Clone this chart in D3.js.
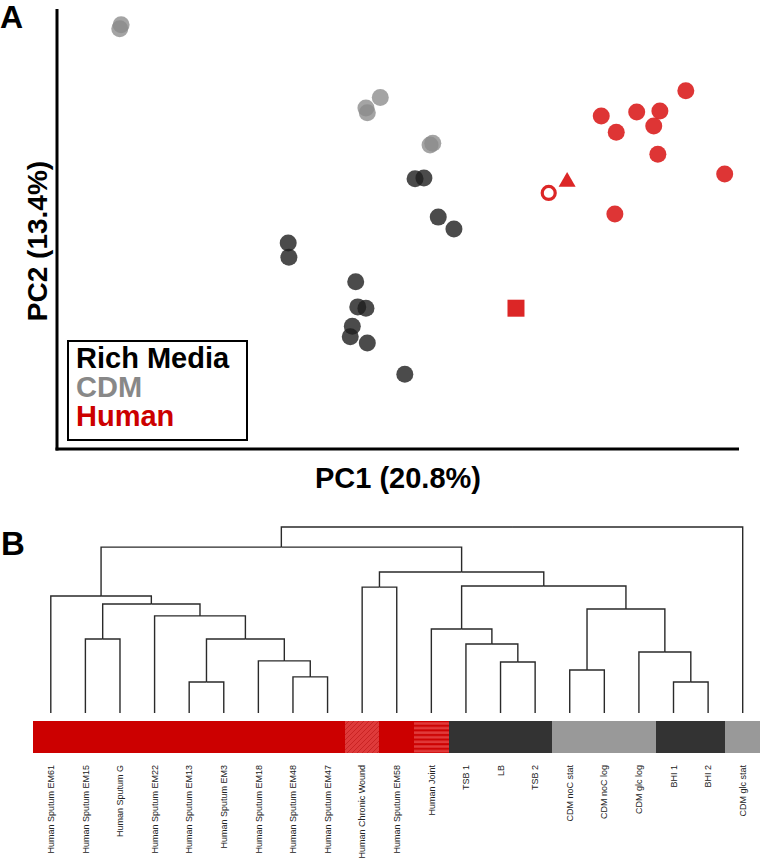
<!DOCTYPE html>
<html>
<head>
<meta charset="utf-8">
<script src="https://cdn.jsdelivr.net/npm/d3@7"></script>
<style>
  html, body { margin: 0; padding: 0; background: #fff; }
  svg { display: block; font-family: "Liberation Sans", Arial, sans-serif; }
</style>
</head>
<body>
<div id="chart"></div>
<script>
// ---- Panel A: PCA scores (axis units, 0-100 both ways) ----
const richX = [52.5, 53.8, 55.9, 58.2, 33.9, 34.0, 43.8, 44.1, 45.3, 43.3, 43.0, 45.5, 51.0];
const richY = [61.4, 61.6, 52.7, 50.0, 46.8, 43.6, 38.0, 32.3, 32.0, 27.9, 25.5, 24.1, 17.0];
const cdmX = [9.4, 9.2, 47.4, 45.3, 45.5, 54.7, 55.1];
const cdmY = [96.4, 95.5, 79.9, 77.5, 76.4, 69.1, 69.5];
const humanX = [79.8, 82.0, 85.0, 88.4, 87.5, 92.2, 88.1, 97.9, 81.8, 72.1, 74.8, 67.3];
const humanY = [75.7, 72.0, 76.6, 76.8, 73.4, 81.4, 67.0, 62.5, 53.4, 58.2, 60.7, 32.0];
// sputum = filled circle, wound = open circle, joint = triangle, other = square
const humanShape = ["sputum", "sputum", "sputum", "sputum", "sputum", "sputum", "sputum", "sputum", "sputum", "wound", "joint", "square"];
const legendLabels = ["Rich Media", "CDM", "Human"];

// ---- Panel B: hierarchical clustering ----
const leafNames = [
  "Human Sputum EM61", "Human Sputum EM15", "Human Sputum G", "Human Sputum EM22",
  "Human Sputum EM13", "Human Sputum EM3", "Human Sputum EM18", "Human Sputum EM48",
  "Human Sputum EM47", "Human Chronic Wound", "Human Sputum EM58", "Human Joint",
  "TSB 1", "LB", "TSB 2", "CDM noC stat", "CDM noC log", "CDM glc log",
  "BHI 1", "BHI 2", "CDM glc stat"
];
const leafGroups = [
  "human", "human", "human", "human", "human", "human", "human", "human", "human",
  "wound", "human", "joint", "rich", "rich", "rich", "cdm", "cdm", "cdm",
  "rich", "rich", "cdm"
];
// hclust-style merge table: negative = leaf (1-based), positive = earlier merge
const mergeLeft   = [-5, -19, -8, -16, -14, -7, -18, -13, -2, 1, -12, -4, 4, 9, -1, -10, 11, 16, 15, 19];
const mergeRight  = [-6, -20, -9, -17, -15, 3, 2, 5, -3, 6, 8, 10, 7, 12, 14, -11, 13, 17, 18, -21];
const mergeHeight = [0.167, 0.167, 0.194, 0.231, 0.274, 0.280, 0.328, 0.371, 0.398, 0.398,
                     0.452, 0.522, 0.559, 0.586, 0.629, 0.677, 0.683, 0.758, 0.892, 1.0];

const groupFill = { human: "#cc0000", wound: "url(#hatch)", joint: "url(#stripes)", rich: "#333333", cdm: "#999999" };

const W = 760, H = 868;
const svg = d3.select("#chart").append("svg").attr("width", W).attr("height", H);

const defs = svg.append("defs");
const hatch = defs.append("pattern").attr("id", "hatch").attr("patternUnits", "userSpaceOnUse")
  .attr("width", 5).attr("height", 5);
hatch.append("rect").attr("width", 5).attr("height", 5).attr("fill", "#de3a3a");
hatch.append("path").attr("d", "M0,5 L5,0 M-1,1 L1,-1 M4,6 L6,4")
  .attr("stroke", "#c01818").attr("stroke-width", 0.7);
const stripes = defs.append("pattern").attr("id", "stripes").attr("patternUnits", "userSpaceOnUse")
  .attr("width", 10).attr("height", 4.6).attr("y", 721);
stripes.append("rect").attr("width", 10).attr("height", 4.6).attr("fill", "#cc0000");
stripes.append("rect").attr("width", 10).attr("y", 1.2).attr("height", 2.6).attr("fill", "#e03a3a");

// ---------- Panel A ----------
const x = d3.scaleLinear().domain([0, 100]).range([57, 739]);
const y = d3.scaleLinear().domain([0, 100]).range([449, 9]);

svg.append("text").attr("x", 0).attr("y", 28).attr("font-size", 32).attr("font-weight", "bold").text("A");

const pts = svg.append("g");
pts.selectAll("circle.cdm").data(d3.zip(cdmX, cdmY)).join("circle")
  .attr("class", "cdm")
  .attr("cx", d => x(d[0])).attr("cy", d => y(d[1])).attr("r", 8.5)
  .attr("fill", "#8a8a8a").attr("fill-opacity", 0.78);
pts.selectAll("circle.rich").data(d3.zip(richX, richY)).join("circle")
  .attr("class", "rich")
  .attr("cx", d => x(d[0])).attr("cy", d => y(d[1])).attr("r", 8.5)
  .attr("fill", "#1e1e1e").attr("fill-opacity", 0.8);

const human = d3.zip(humanX, humanY, humanShape);
const red = "#dc2626";
pts.selectAll("circle.human").data(human.filter(d => d[2] === "sputum")).join("circle")
  .attr("class", "human")
  .attr("cx", d => x(d[0])).attr("cy", d => y(d[1])).attr("r", 8.5)
  .attr("fill", red).attr("fill-opacity", 0.93);
pts.selectAll("circle.wound").data(human.filter(d => d[2] === "wound")).join("circle")
  .attr("class", "wound")
  .attr("cx", d => x(d[0])).attr("cy", d => y(d[1])).attr("r", 6.5)
  .attr("fill", "#fff").attr("stroke", red).attr("stroke-width", 3.2);
pts.selectAll("path.joint").data(human.filter(d => d[2] === "joint")).join("path")
  .attr("class", "joint")
  .attr("transform", d => `translate(${x(d[0])},${y(d[1])})`)
  .attr("d", d3.symbol(d3.symbolTriangle, 125))
  .attr("fill", red);
pts.selectAll("path.square").data(human.filter(d => d[2] === "square")).join("path")
  .attr("class", "square")
  .attr("transform", d => `translate(${x(d[0])},${y(d[1])})`)
  .attr("d", d3.symbol(d3.symbolSquare, 289))
  .attr("fill", red);

// axes (plain lines, no ticks)
svg.append("line").attr("x1", x(0)).attr("x2", x(0)).attr("y1", y(100)).attr("y2", y(0) + 1.5)
  .attr("stroke", "#000").attr("stroke-width", 3);
svg.append("line").attr("x1", x(0) - 1.5).attr("x2", x(100)).attr("y1", y(0)).attr("y2", y(0))
  .attr("stroke", "#000").attr("stroke-width", 3);

svg.append("text").attr("x", 398).attr("y", 488).attr("text-anchor", "middle")
  .attr("font-size", 29).attr("font-weight", "bold").text("PC1 (20.8%)");
svg.append("text").attr("transform", "translate(47,241) rotate(-90)").attr("text-anchor", "middle")
  .attr("font-size", 28).attr("font-weight", "bold").text("PC2 (13.4%)");

// legend
const legendColors = ["#000000", "#888888", "#cc0000"];
svg.append("rect").attr("x", 68).attr("y", 341).attr("width", 179).attr("height", 99)
  .attr("fill", "#fff").attr("stroke", "#000").attr("stroke-width", 2);
svg.append("g").selectAll("text").data(legendLabels).join("text")
  .attr("x", 76).attr("y", (d, i) => 368 + i * 29)
  .attr("font-size", 29).attr("font-weight", "bold")
  .attr("fill", (d, i) => legendColors[i]).text(d => d);

// ---------- Panel B ----------
svg.append("text").attr("x", 1).attr("y", 555).attr("font-size", 33).attr("font-weight", "bold").text("B");

const xb = d3.scalePoint().domain(leafNames).range([33.5, 760]).padding(0.5);
const hb = d3.scaleLinear().domain([0, 1]).range([713, 527]);

// build tree from merge table
const built = [];
function ref(i) {
  return i < 0 ? { name: leafNames[-i - 1], group: leafGroups[-i - 1], height: 0 } : built[i - 1];
}
mergeLeft.forEach((l, k) => {
  built.push({ name: "m" + (k + 1), height: mergeHeight[k], children: [ref(l), ref(mergeRight[k])] });
});
const root = d3.hierarchy(built[built.length - 1]);
root.eachAfter(d => {
  d.px = d.children ? d3.mean(d.children, c => c.px) : xb(d.data.name);
  d.py = hb(d.data.height);
});

svg.append("g").attr("fill", "none").attr("stroke", "#2a2a2a").attr("stroke-width", 1.4)
  .selectAll("path").data(root.links()).join("path")
  .attr("d", l => `M${l.target.px},${l.target.py}V${l.source.py}H${l.source.px}`);

// group colour bar
svg.append("g").attr("shape-rendering", "crispEdges")
  .selectAll("rect").data(leafNames).join("rect")
  .attr("x", d => Math.round(xb(d) - xb.step() / 2)).attr("y", 721)
  .attr("width", d => Math.round(xb(d) + xb.step() / 2) - Math.round(xb(d) - xb.step() / 2) + 1)
  .attr("height", 32)
  .attr("fill", (d, i) => groupFill[leafGroups[i]]);

svg.append("g").selectAll("text").data(leafNames).join("text")
  .attr("transform", d => `translate(${xb(d)},765) rotate(-90)`)
  .attr("dy", "0.35em").attr("text-anchor", "end")
  .attr("font-size", 9).attr("fill", "#222").text(d => d);
</script>
</body>
</html>
